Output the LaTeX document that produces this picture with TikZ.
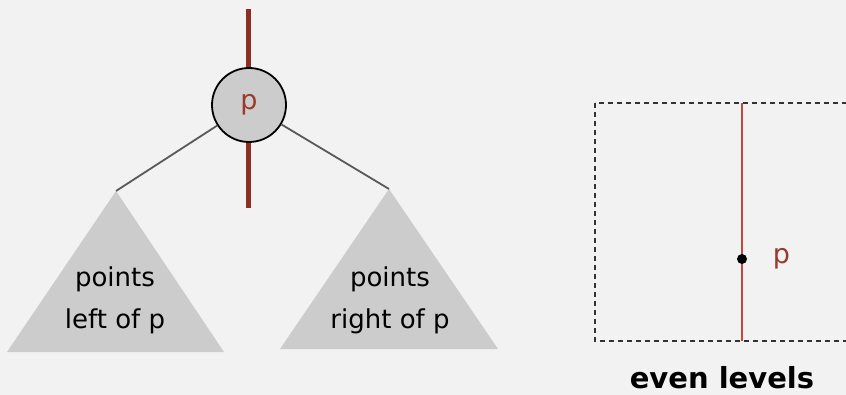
\documentclass[tikz,border=0pt]{standalone}
\usepackage{fontspec}
\setmainfont{DejaVu Sans}
\usetikzlibrary{positioning}
\definecolor{bgcol}{RGB}{242,242,242}
\definecolor{splitcol}{RGB}{140,46,34}
\definecolor{keycol}{RGB}{155,58,42}
\definecolor{linecol}{RGB}{200,70,60}

\begin{document}
\begin{tikzpicture}[
        x=1pt, y=-1pt,
        key/.style = {draw=black, circle, fill=black!20, line width=1.8pt, minimum size=74pt, inner sep=0pt, text=keycol, font=\fontsize{27}{30}\selectfont},
        subtree/.style = {fill=black!20},
        label/.style = {align=center, font=\fontsize{26}{42}\selectfont},
        link/.style = {draw=black!65, line width=1.8pt},
        split/.style = {splitcol, line width=5pt},
        pt/.style = {fill=black, circle, inner sep=0pt, minimum size=10pt},
        semithick]

    \useasboundingbox (0,0) rectangle (846,395);
    \fill[bgcol] (0,0) rectangle (846,395);
    \clip (0,0) rectangle (846,395);

    % tree
    \draw[split] (248,9) -- (248,208);
    \node[key] (p) at (249,105) {p};
    \coordinate (lt) at (116,191);
    \coordinate (rt) at (389,189);
    \fill[subtree] (lt) -- (224,352) -- (7,352) -- cycle;
    \fill[subtree] (rt) -- (498,349) -- (280,349) -- cycle;
    \draw[link] (p) -- (lt);
    \draw[link] (p) -- (rt);
    \node[label] (left) at (115,300) {points\\left of p};
    \node[label] (right) at (390,300) {points\\right of p};

    % plane
    \draw[dash pattern=on 5pt off 4pt, black!80, line width=1.3pt] (595,103) rectangle (870,341);
    \coordinate (top) at (742,103);
    \coordinate (bot) at (742,341);
    \draw[linecol, line width=2.2pt] (top) -- (bot);
    \node[pt] (q) at (742,259) {};
    \node[right=22pt of q, text=keycol, font=\fontsize{27}{30}\selectfont] (qlab) {p};
    \node[font=\bfseries\fontsize{29}{30}\selectfont] (even) at (722,378) {even levels};

\end{tikzpicture}
\end{document}
